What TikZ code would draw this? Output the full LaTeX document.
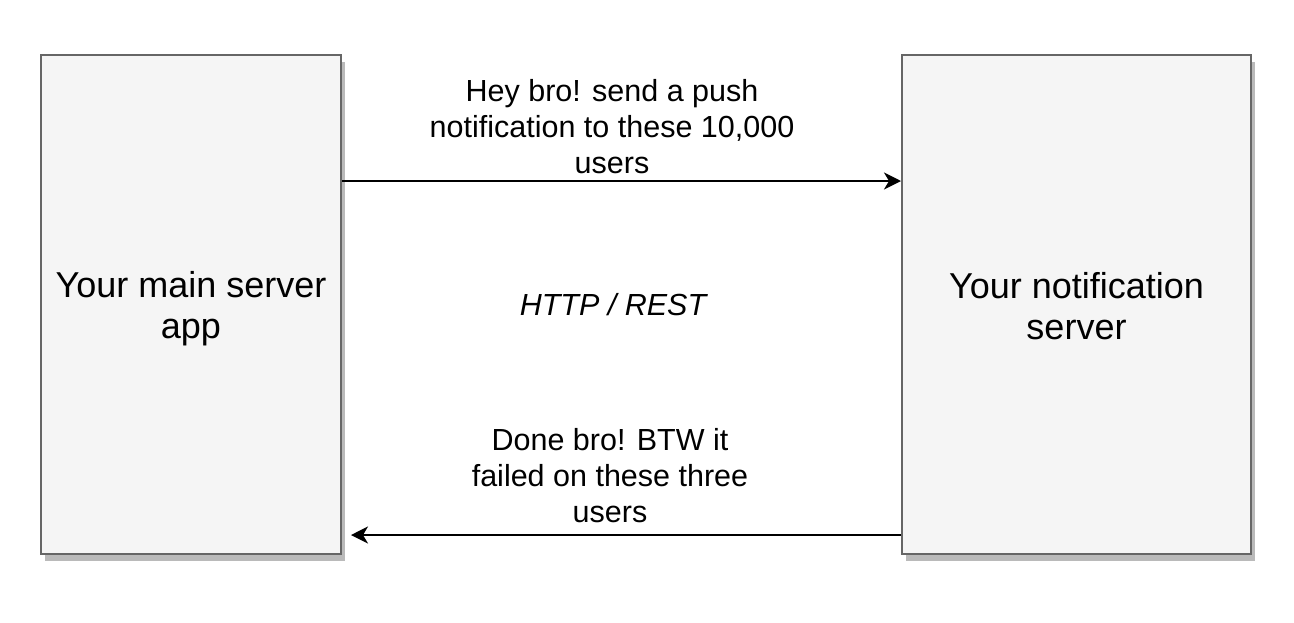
\documentclass[tikz,border=0pt]{standalone}
\usepackage{fontspec}
\setmainfont{Liberation Sans}
\usetikzlibrary{arrows.meta,shadows}
\begin{document}
\begin{tikzpicture}[x=1pt,y=-1pt,
  server/.style={draw=black!60,line width=2pt,fill=black!4,inner sep=0pt,
    drop shadow={shadow xshift=4pt,shadow yshift=-7pt,fill=black!27,opacity=1}},
  servertext/.style={align=center,font=\fontsize{36}{41}\selectfont,inner sep=0pt},
  lbl/.style={align=center,font=\fontsize{30.5}{36}\selectfont,inner sep=0pt},
  arr/.style={line width=2pt,-{Stealth[length=17pt,width=17pt,inset=5pt]}}]
\useasboundingbox (0,0) rectangle (1294,622);
\node[server,minimum width=300pt,minimum height=499pt,
  label={[servertext,yshift=-4pt]center:Your main server\\app}] (L) at (191,304.5) {};
\node[server,minimum width=349pt,minimum height=499pt,
  label={[servertext,yshift=-2pt]center:Your notification\\server}] (R) at (1076.5,304.5) {};
\draw[arr] (L.east |- 0,181) -- (R.west |- 0,181);
\draw[arr,shorten >=9pt] (R.west |- 0,535) -- (L.east |- 0,535);
\node[lbl] (top) at (612,127) {Hey bro! send a push\\notification to these 10,000\\users};
\node[lbl,font=\fontsize{30.5}{36}\selectfont\itshape] (mid) at (613,305) {HTTP / REST};
\node[lbl] (bot) at (610,476) {Done bro! BTW it\\failed on these three\\users};
\end{tikzpicture}
\end{document}
